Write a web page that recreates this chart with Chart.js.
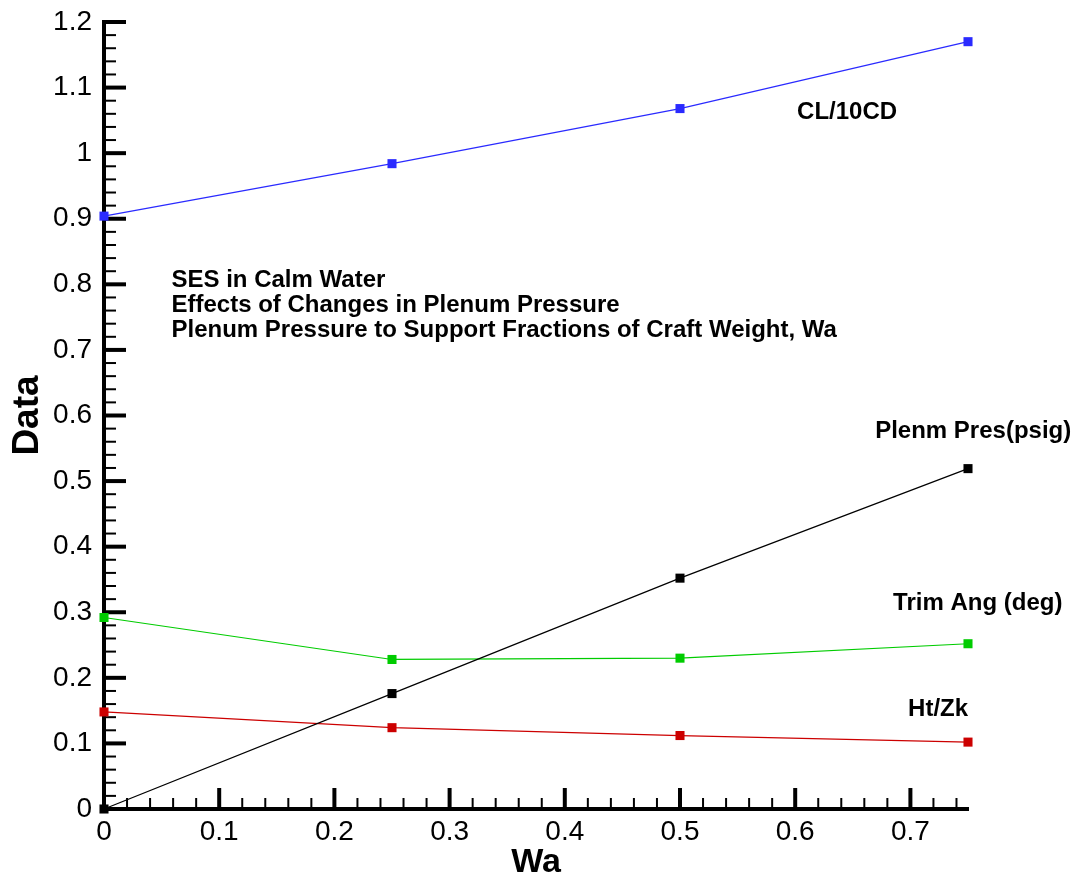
<!DOCTYPE html>
<html>
<head>
<meta charset="utf-8">
<script src="https://cdn.jsdelivr.net/npm/chart.js@4/dist/chart.umd.min.js"></script>
<style>
    html, body { margin: 0; padding: 0; background: #fff; }
    #wrap { width: 1079px; height: 880px; position: relative; }
</style>
</head>
<body>
<div id="wrap"><canvas id="wsChart"></canvas></div>
<script>
// data
const wa = [0, 0.25, 0.5, 0.75];
const clOver10cd = [0.904, 0.984, 1.068, 1.170];
const plenumPres = [0, 0.176, 0.352, 0.519];
const trimAng = [0.292, 0.228, 0.230, 0.252];
const htZk = [0.148, 0.124, 0.112, 0.102];

const xTicks = [0, 0.1, 0.2, 0.3, 0.4, 0.5, 0.6, 0.7];
const yTicks = [0, 0.1, 0.2, 0.3, 0.4, 0.5, 0.6, 0.7, 0.8, 0.9, 1, 1.1, 1.2];

const noteLines = [
    "SES in Calm Water",
    "Effects of Changes in Plenum Pressure",
    "Plenum Pressure to Support Fractions of Craft Weight, Wa"
];

// series labels, placed in data coordinates
const seriesLabels = [
    {text: "CL/10CD", x: 0.6016, y: 1.0515},
    {text: "Plenm Pres(psig)", x: 0.6694, y: 0.5657},
    {text: "Trim Ang (deg)", x: 0.685, y: 0.3038},
    {text: "Ht/Zk", x: 0.698, y: 0.1424}
];

const FONT = "'Liberation Sans', Arial, Helvetica, sans-serif";

function toPoints(ys) {
    return wa.map(function (x, i) { return {x: x, y: ys[i]}; });
}

function series(label, values, color) {
    return {
        label: label,
        data: toPoints(values),
        borderColor: color,
        backgroundColor: color,
        borderWidth: 1.2,
        pointStyle: "rect",
        pointRadius: 6.4,
        pointBorderWidth: 0,
        pointHoverRadius: 6.4,
        tension: 0,
        clip: false
    };
}

// inward major / minor tick marks like the original plot
const axisTicks = {
    id: "axisTicks",
    beforeDatasetsDraw(chart) {
        const ctx = chart.ctx;
        const xs = chart.scales.x, ys = chart.scales.y;
        const left = chart.chartArea.left, bottom = chart.chartArea.bottom;
        ctx.save();
        ctx.strokeStyle = "#000";
        ctx.lineCap = "butt";
        for (let i = 1; i <= 60; i++) {
            const major = i % 5 === 0;
            const py = ys.getPixelForValue(i * 0.02);
            ctx.lineWidth = major ? 4 : 2;
            ctx.beginPath();
            ctx.moveTo(left, py);
            ctx.lineTo(left + (major ? 22 : 12), py);
            ctx.stroke();
        }
        for (let i = 1; i <= 37; i++) {
            const major = i % 5 === 0;
            const px = xs.getPixelForValue(i * 0.02);
            ctx.lineWidth = major ? 4 : 2;
            ctx.beginPath();
            ctx.moveTo(px, bottom);
            ctx.lineTo(px, bottom - (major ? 21 : 11));
            ctx.stroke();
        }
        ctx.restore();
    }
};

const textNotes = {
    id: "textNotes",
    afterDatasetsDraw(chart) {
        const ctx = chart.ctx;
        const xs = chart.scales.x, ys = chart.scales.y;
        ctx.save();
        ctx.fillStyle = "#000";
        ctx.textBaseline = "alphabetic";
        ctx.textAlign = "left";
        ctx.font = "bold 24px " + FONT;
        const nx = xs.getPixelForValue(0.0586);
        const ny = ys.getPixelForValue(0.7957);
        noteLines.forEach(function (line, i) {
            ctx.fillText(line, nx, ny + i * 25);
        });
        seriesLabels.forEach(function (l) {
            ctx.fillText(l.text, xs.getPixelForValue(l.x), ys.getPixelForValue(l.y));
        });
        ctx.restore();
    }
};

function fmt(v) {
    return String(Number(v.toFixed(2)));
}

new Chart(document.getElementById("wsChart"), {
    type: "line",
    data: {
        datasets: [
            series("CL/10CD", clOver10cd, "#2a2aff"),
            series("Plenm Pres(psig)", plenumPres, "#000000"),
            series("Trim Ang (deg)", trimAng, "#00cc00"),
            series("Ht/Zk", htZk, "#cc0000")
        ]
    },
    options: {
        responsive: true,
        maintainAspectRatio: false,
        animation: false,
        layout: {padding: {top: 22, right: 111, left: 0, bottom: 0}},
        plugins: {
            legend: {display: false},
            tooltip: {enabled: false}
        },
        scales: {
            x: {
                type: "linear",
                min: 0,
                max: 0.75,
                afterBuildTicks: function (scale) {
                    scale.ticks = xTicks.map(function (v) { return {value: v}; });
                },
                afterFit: function (scale) {
                    scale.height = 71;
                    scale.paddingLeft = 0;
                    scale.paddingRight = 0;
                },
                grid: {display: false, drawTicks: false},
                border: {display: true, color: "#000", width: 4},
                ticks: {
                    color: "#000",
                    padding: 6,
                    maxRotation: 0,
                    autoSkip: false,
                    font: {family: FONT, size: 28},
                    callback: fmt
                },
                title: {
                    display: true,
                    text: "Wa",
                    color: "#000",
                    padding: 0,
                    font: {family: FONT, size: 34, weight: "bold", lineHeight: 1}
                }
            },
            y: {
                type: "linear",
                min: 0,
                max: 1.2,
                afterBuildTicks: function (scale) {
                    scale.ticks = yTicks.map(function (v) { return {value: v}; });
                },
                afterFit: function (scale) {
                    scale.width = 104;
                    scale.paddingTop = 0;
                    scale.paddingBottom = 0;
                },
                grid: {display: false, drawTicks: false},
                border: {display: true, color: "#000", width: 4},
                ticks: {
                    color: "#000",
                    padding: 12,
                    autoSkip: false,
                    font: {family: FONT, size: 28},
                    callback: fmt
                },
                title: {
                    display: true,
                    text: "Data",
                    color: "#000",
                    padding: {top: 9, bottom: 0},
                    font: {family: FONT, size: 37, weight: "bold", lineHeight: 1}
                }
            }
        }
    },
    plugins: [axisTicks, textNotes]
});
</script>
</body>
</html>
